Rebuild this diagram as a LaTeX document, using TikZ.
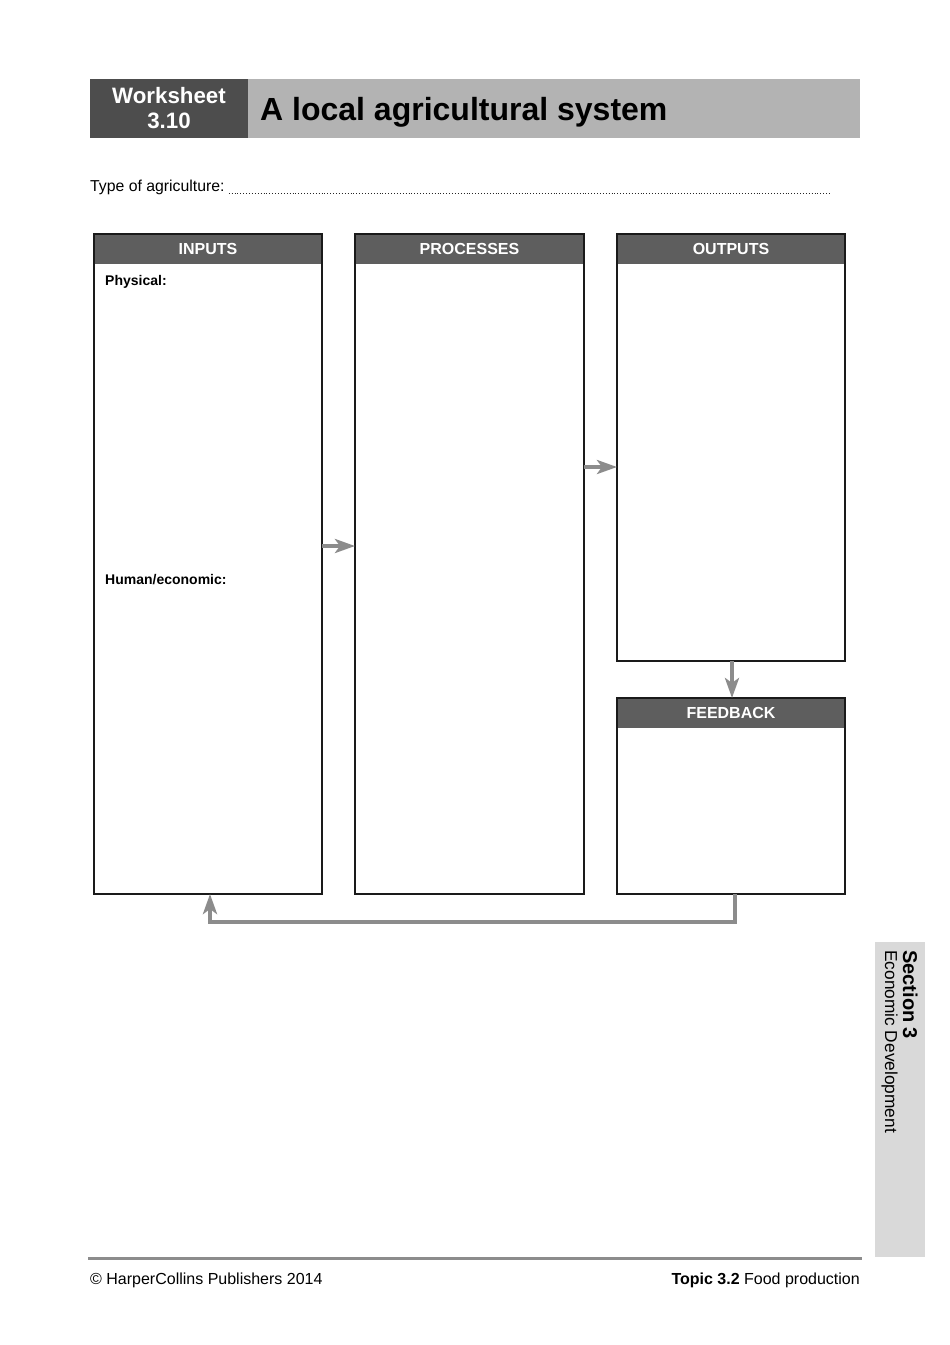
\documentclass[tikz,border=0pt]{standalone}
\usepackage{fontspec}
\setmainfont{Liberation Sans}
\usetikzlibrary{arrows.meta}
\definecolor{hdrdark}{HTML}{4D4D4D}
\definecolor{titlegray}{HTML}{B3B3B3}
\definecolor{boxhead}{HTML}{5E5E5E}
\definecolor{arrgray}{HTML}{8C8C8C}
\definecolor{tabgray}{HTML}{D9D9D9}
\definecolor{frameblack}{HTML}{1A1A1A}
\begin{document}
\begin{tikzpicture}[x=1pt,y=-1pt,
  block/.style={anchor=north west, inner sep=0pt, outer sep=0pt},
  frame/.style={block, draw=frameblack, line width=1.1pt},
  headbar/.style={block, fill=boxhead, text=white, minimum height=30pt,
      font=\fontsize{16}{19}\selectfont\bfseries},
  sublabel/.style={anchor=base west, inner sep=0pt, font=\fontsize{14}{17}\selectfont\bfseries},
  arr/.style={draw=arrgray, line width=4.8pt, line join=miter,
      -{Stealth[length=20pt,width=14pt,inset=5pt,fill=arrgray]}},
  foot/.style={inner sep=0pt, font=\fontsize{16}{19}\selectfont}
]
\useasboundingbox (0,0) rectangle (950,1345);
\fill[white] (0,0) rectangle (950,1345);

% title bar
\node[block, fill=hdrdark, minimum width=158pt, minimum height=59pt] (wsblock) at (90,79) {};
\node[block, fill=titlegray, minimum width=612pt, minimum height=59pt] (titlebar) at (248,79) {};
\node[anchor=base, inner sep=0pt, text=white, font=\fontsize{22.3}{26}\selectfont\bfseries] (ws1) at (169,103.5) {Worksheet};
\node[anchor=base, inner sep=0pt, text=white, font=\fontsize{22.3}{26}\selectfont\bfseries] (ws2) at (169,128.5) {3.10};
\node[anchor=base west, inner sep=0pt, font=\fontsize{32}{38}\selectfont\bfseries] (title) at (260,120) {A local agricultural system};

% type of agriculture
\node[anchor=base west, inner sep=0pt, font=\fontsize{15.8}{19}\selectfont] (typelbl) at (90,191) {Type of agriculture:};
\coordinate (dotend) at (830,193);
\draw[dotted, line width=0.9pt, black!85] (typelbl.base east |- dotend) ++(4,0) -- (dotend);

% header bars
\node[headbar, minimum width=228pt] (inhead) at (94,234) {INPUTS};
\node[headbar, minimum width=229pt] (prhead) at (355,234) {PROCESSES};
\node[headbar, minimum width=228pt] (outhead) at (617,234) {OUTPUTS};
\node[headbar, minimum width=228pt] (fbhead) at (617,698) {FEEDBACK};

% box frames
\node[frame, minimum width=228pt, minimum height=660pt] (inputs) at (94,234) {};
\node[frame, minimum width=229pt, minimum height=660pt] (processes) at (355,234) {};
\node[frame, minimum width=228pt, minimum height=427pt] (outputs) at (617,234) {};
\node[frame, minimum width=228pt, minimum height=196pt] (feedback) at (617,698) {};
\draw[frameblack, line width=2pt] (processes.north east) -- (processes.south east);

\node[sublabel] (phys) at (105,285) {Physical:};
\node[sublabel] (human) at (105,584) {Human/economic:};

% arrows
\coordinate (ya) at (0,546);
\coordinate (yb) at (0,467);
\coordinate (xc) at (732,0);
\coordinate (rx) at (735,922);
\coordinate (lx) at (210,922);
\draw[arr] (inputs.east |- ya) -- (processes.west |- ya);
\draw[arr] (processes.east |- yb) -- (outputs.west |- yb);
\draw[arr] (outputs.south -| xc) -- (feedback.north -| xc);
\draw[arr] (feedback.south -| rx) -- (rx) -- (lx) -- (inputs.south -| lx);

% side tab
\node[block, fill=tabgray, minimum width=50pt, minimum height=315pt] (tab) at (875,942) {};
\node[rotate=-90, anchor=base west, inner sep=0pt, font=\fontsize{20}{24}\selectfont\bfseries] (sect) at (903,950) {Section 3};
\node[rotate=-90, anchor=base west, inner sep=0pt, font=\fontsize{17.3}{21}\selectfont] (econ) at (885,950) {Economic Development};

% footer
\coordinate (fl) at (88,1258);
\coordinate (fr) at (862,1258);
\draw[arrgray, line width=3pt] (fl) -- (fr);
\node[foot, anchor=base west] (copy) at (90,1284) {© HarperCollins Publishers 2014};
\node[foot, anchor=base east] (topic) at (860,1284) {\textbf{Topic 3.2} Food production};
\end{tikzpicture}
\end{document}
